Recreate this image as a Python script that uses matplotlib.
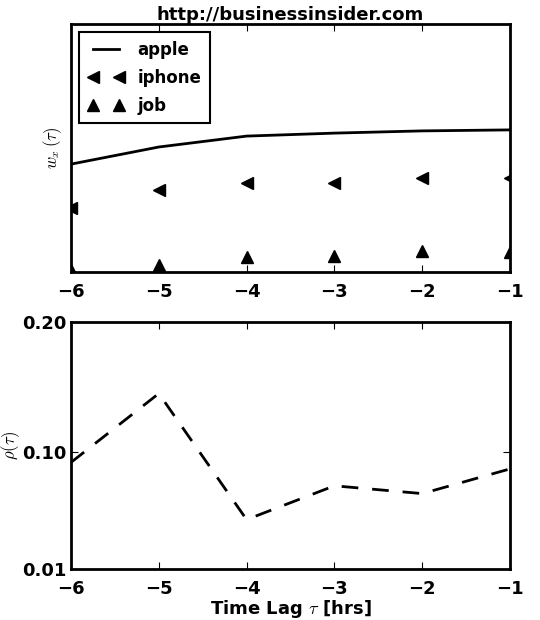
import numpy as np
import matplotlib
matplotlib.use('Agg')
import matplotlib.pyplot as plt

lags = [-6, -5, -4, -3, -2, -1]
w_apple = [0.435, 0.504, 0.548, 0.560, 0.569, 0.573]
w_iphone = [0.258, 0.331, 0.360, 0.358, 0.380, 0.380]
w_job = [0.010, 0.028, 0.060, 0.065, 0.086, 0.080]
rho = [0.092, 0.145, 0.048, 0.074, 0.068, 0.087]
rho_ticks = [0.01, 0.10, 0.20]
lag_labels = ['\u22126', '\u22125', '\u22124', '\u22123', '\u22122', '\u22121']

plt.rcParams['font.family'] = ['DejaVu Sans']
plt.rcParams['font.weight'] = 'bold'
plt.rcParams['font.size'] = 13
plt.rcParams['axes.linewidth'] = 2
plt.rcParams['xtick.direction'] = 'in'
plt.rcParams['ytick.direction'] = 'in'
plt.rcParams['xtick.top'] = True
plt.rcParams['ytick.right'] = True
plt.rcParams['xtick.major.size'] = 5
plt.rcParams['ytick.major.size'] = 5
plt.rcParams['mathtext.fontset'] = 'cm'

fig = plt.figure(figsize=(5.4, 6.2), dpi=100)
ax1 = fig.add_axes([71/540, 1-272/620, 439/540, 248/620])
ax2 = fig.add_axes([71/540, 1-569/620, 439/540, 247/620])

ax1.plot(lags, w_apple, 'k-', lw=2, label='apple')
ax1.plot(lags, w_iphone, 'k<', ms=8, ls='none', label='iphone')
ax1.plot(lags, w_job, 'k^', ms=8, ls='none', label='job')
ax1.set_xlim(-6, -1)
ax1.set_ylim(0, 1)
ax1.set_yticks([])
ax1.set_xticks(lags)
ax1.set_xticklabels(lag_labels)
ax1.tick_params(axis='x', pad=8)
ax1.set_ylabel(r'$w_x\,(\tau)$', fontsize=12, labelpad=5)
ax1.set_title('http://businessinsider.com', fontsize=13, fontweight='bold', pad=2)
leg = ax1.legend(loc='upper left', numpoints=2, fancybox=False, framealpha=1,
                 edgecolor='k', fontsize=12, handlelength=2.2, borderaxespad=0.5,
                 labelspacing=0.6, borderpad=0.5)
leg.get_frame().set_linewidth(1.5)

ax2.plot(lags, rho, 'k--', lw=2, dashes=(6, 5))
ax2.set_xlim(-6, -1)
ax2.set_ylim(0.01, 0.20)
ax2.set_yticks(rho_ticks)
ax2.set_yticklabels(['%.2f' % v for v in rho_ticks])
ax2.set_xticks(lags)
ax2.set_xticklabels(lag_labels)
ax2.tick_params(axis='x', pad=8)
ax2.set_ylabel(r'$\rho(\tau)$', fontsize=12, labelpad=0)
ax2.set_xlabel(r'Time Lag $\tau$ [hrs]', fontsize=13, fontweight='bold', labelpad=0)

fig.savefig('out.png', dpi=100)
